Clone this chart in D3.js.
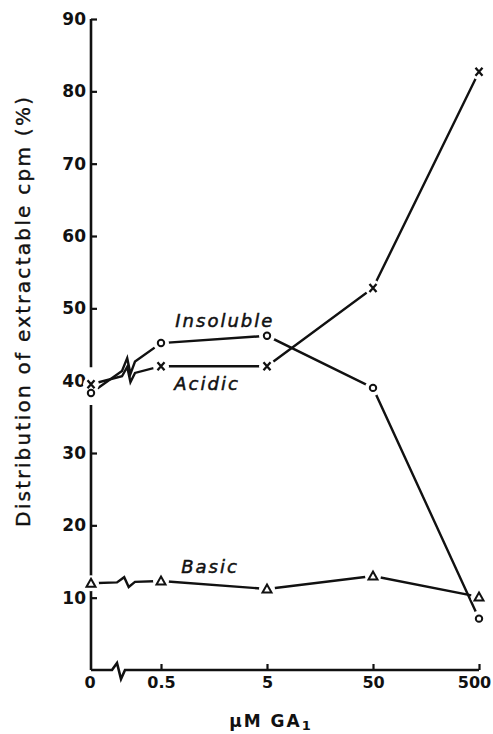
<!DOCTYPE html>
<html>
<head>
<meta charset="utf-8">
<script src="https://cdn.jsdelivr.net/npm/d3@7"></script>
<style>
  body { margin: 0; background: #fff; }
  svg text { font-family: "DejaVu Sans", sans-serif; fill: #111; }
  .axis text { font-weight: bold; }
  .y.axis text { font-size: 17px; }
  .x.axis text { font-size: 16px; }
  .series-label { font-size: 18px; font-style: italic; letter-spacing: 2px; stroke: #111; stroke-width: 0.5px; }
</style>
</head>
<body>
<div id="graphic"></div>
<script>
// GA1 concentrations (uM); 0 is drawn left of an axis break
const doses = [0, 0.5, 5, 50, 500];
const xTickLabels = ["0", "0.5", "5", "50", "500"];
const yTicks = [10, 20, 30, 40, 50, 60, 70, 80, 90];

// distribution of extractable cpm (%)
const insoluble = [38.3, 45.2, 46.2, 39.0, 7.1];
const acidic = [39.5, 42.0, 42.0, 52.8, 82.7];
const basic = [12.0, 12.3, 11.2, 13.0, 10.1];

const seriesNames = ["Insoluble", "Acidic", "Basic"];
const seriesMarkers = ["circle", "cross", "triangle"];

const width = 493, height = 734;
const margin = { top: 19, right: 14, bottom: 64, left: 91 };
const x0 = margin.left;

let svg = d3.select('#graphic')
	.append('svg')
	.attr('width', width)
	.attr('height', height);

// log scale for the positive doses, 0 sits at the y axis
const xLog = d3.scaleLog().domain([0.5, 500]).range([161, 479]);
const xPos = (v) => v === 0 ? x0 : xLog(v);

const y = d3.scaleLinear().domain([0, 90]).range([height - margin.bottom, margin.top]);
const yBase = y(0);

// y axis, ticks pointing inward
const yAxis = d3.axisLeft(y)
	.tickValues(yTicks)
	.tickSizeInner(-6)
	.tickSizeOuter(0)
	.tickPadding(5);

let gy = svg.append('g')
	.attr('class', 'y axis')
	.attr('transform', `translate(${x0},0)`)
	.call(yAxis);
gy.select('.domain').remove();
gy.selectAll('line').attr('stroke', '#111').attr('stroke-width', 2.2);

// y axis line is interrupted where the zero-dose points sit on it
const firstVals = [insoluble[0], acidic[0]];
const gapTop = y(d3.max(firstVals)) - 17;
const gapBottom = y(d3.min(firstVals)) + 12;
[[y(90), gapTop], [gapBottom, yBase]].forEach(([a, b]) => {
	svg.append('line')
		.attr('x1', x0).attr('x2', x0)
		.attr('y1', a).attr('y2', b)
		.attr('stroke', '#111').attr('stroke-width', 2.6);
});

// x axis: ticks for 0.5..500, manual 0 label
const xAxis = d3.axisBottom(xLog)
	.tickValues(doses.slice(1))
	.tickFormat((d, i) => xTickLabels[i + 1])
	.tickSizeInner(-6)
	.tickSizeOuter(0)
	.tickPadding(7);

let gx = svg.append('g')
	.attr('class', 'x axis')
	.attr('transform', `translate(0,${yBase})`)
	.call(xAxis);
gx.select('.domain').remove();
gx.selectAll('line').attr('stroke', '#111').attr('stroke-width', 2.2);
gx.selectAll('.tick text').attr('dx', (d) => d === 500 ? -5 : 0);
gx.append('text')
	.attr('x', x0 - 1)
	.attr('y', 7)
	.attr('dy', '0.71em')
	.attr('text-anchor', 'middle')
	.text(xTickLabels[0]);

// axis line with a break between 0 and 0.5
svg.append('path')
	.attr('d', d3.line()([
		[x0, yBase], [112, yBase], [117, yBase - 7], [121, yBase + 9], [125, yBase], [xLog(500), yBase]
	]))
	.attr('fill', 'none')
	.attr('stroke', '#111')
	.attr('stroke-width', 2.6)
	.attr('stroke-linejoin', 'miter');

// axis titles
svg.append('text')
	.attr('transform', 'translate(30,312) rotate(-90)')
	.attr('text-anchor', 'middle')
	.attr('textLength', 430)
	.attr('lengthAdjust', 'spacing')
	.style('font-size', '20px')
	.style('stroke', '#111')
	.style('stroke-width', '0.4px')
	.text('Distribution of extractable cpm (%)');

let xTitle = svg.append('text')
	.attr('x', 271)
	.attr('y', 727)
	.attr('text-anchor', 'middle')
	.style('font-size', '17px')
	.style('font-weight', 'bold')
	.style('letter-spacing', '2px');
xTitle.append('tspan').text('\u03bcM  GA');
xTitle.append('tspan').attr('dy', 3).style('font-size', '13px').text('1');

// build series path with a zigzag break between the first two points
function seriesPoints(values, brk) {
	const pts = values.map((v, i) => [xPos(doses[i]), y(v)]);
	const [a, b] = pts;
	const at = (px) => a[1] + (b[1] - a[1]) * (px - a[0]) / (b[0] - a[0]);
	const w = brk.to - brk.from;
	const zig = [
		[brk.from, at(brk.from)],
		[brk.from + w * 0.4, at(brk.from + w * 0.4) - brk.amp],
		[brk.from + w * 0.65, at(brk.from + w * 0.65) + brk.amp],
		[brk.to, at(brk.to)]
	];
	return [a, ...zig, ...pts.slice(1)];
}

const seriesData = [insoluble, acidic, basic];
const breaks = [
	{ from: 122, to: 135, amp: 9 },
	{ from: 122, to: 135, amp: 8 },
	{ from: 117, to: 135, amp: 5 }
];

seriesData.forEach((values, s) => {
	svg.append('path')
		.attr('d', d3.line()(seriesPoints(values, breaks[s])))
		.attr('fill', 'none')
		.attr('stroke', '#111')
		.attr('stroke-width', 2.4)
		.attr('stroke-linejoin', 'miter');
});

// white halos so lines stop short of the markers
let halos = svg.append('g').attr('class', 'halos');
seriesData.forEach((values) => {
	values.forEach((v, i) => {
		halos.append('circle')
			.attr('cx', xPos(doses[i]))
			.attr('cy', y(v))
			.attr('r', 8)
			.attr('fill', '#fff');
	});
});

// markers
seriesData.forEach((values, s) => {
	let g = svg.append('g');
	values.forEach((v, i) => {
		const cx = xPos(doses[i]), cy = y(v);
		if (seriesMarkers[s] === 'circle') {
			g.append('circle')
				.attr('cx', cx).attr('cy', cy).attr('r', 3.2)
				.attr('fill', '#fff').attr('stroke', '#111').attr('stroke-width', 2);
		} else if (seriesMarkers[s] === 'cross') {
			g.append('path')
				.attr('d', `M${cx - 3.5},${cy - 4}L${cx + 3.5},${cy + 4}M${cx + 3.5},${cy - 4}L${cx - 3.5},${cy + 4}`)
				.attr('stroke', '#111').attr('stroke-width', 2.3);
		} else {
			g.append('path')
				.attr('d', `M${cx},${cy - 4.5}L${cx + 4.5},${cy + 3.5}L${cx - 4.5},${cy + 3.5}Z`)
				.attr('fill', '#fff').attr('stroke', '#111').attr('stroke-width', 2);
		}
	});
});

// series labels, placed in data units
const labelDose = [2.0, 1.36, 1.45];
const labelValue = [47.4, 38.7, 13.4];

svg.selectAll('.series-label')
	.data(seriesNames)
	.join('text')
	.attr('class', 'series-label')
	.attr('x', (d, i) => xLog(labelDose[i]))
	.attr('y', (d, i) => y(labelValue[i]))
	.attr('text-anchor', 'middle')
	.text((d) => d);
</script>
</body>
</html>
